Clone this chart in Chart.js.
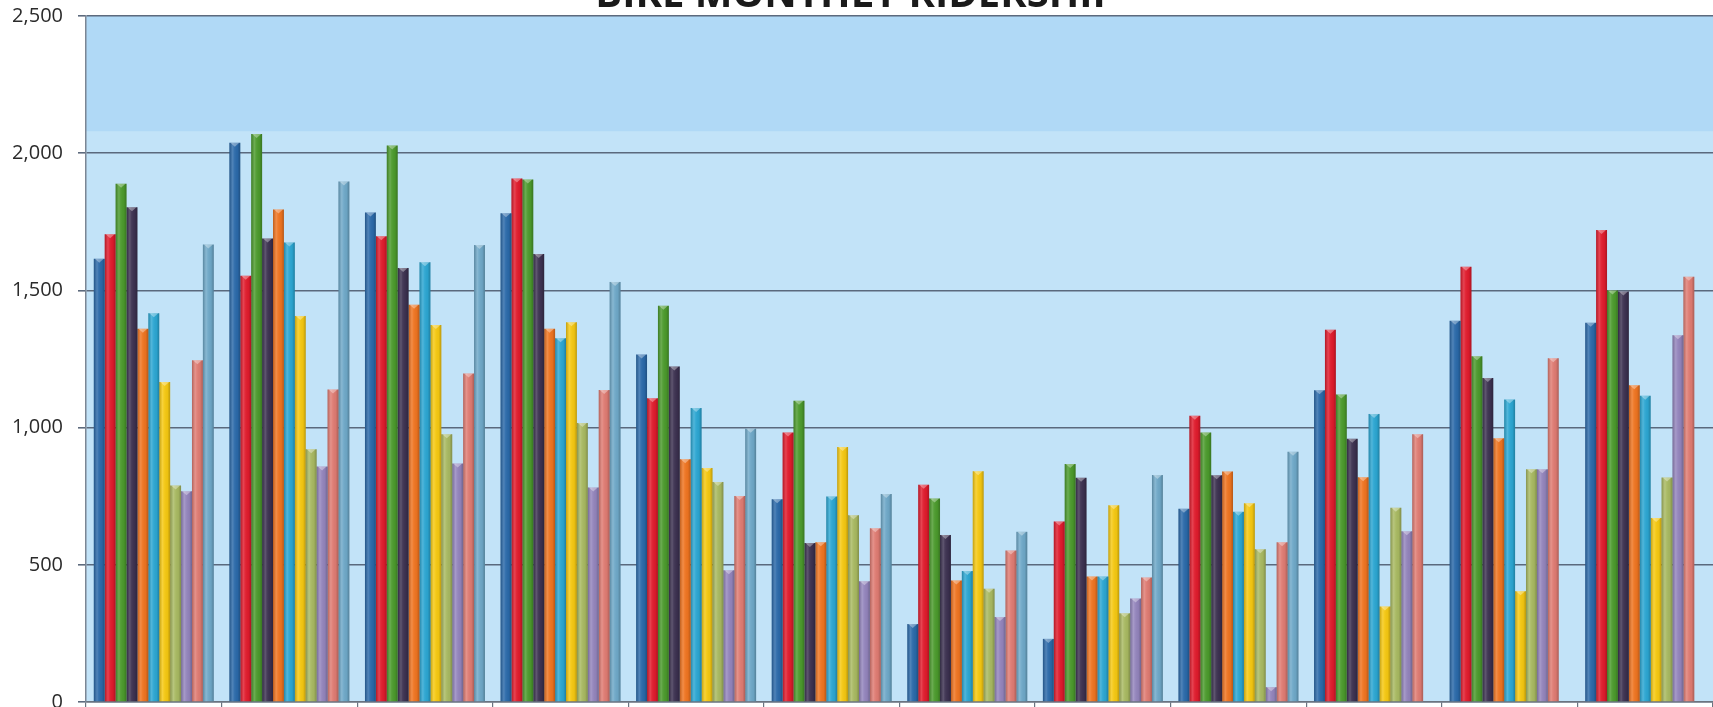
<!DOCTYPE html>
<html>
<head>
<meta charset="utf-8">
<title>Bike Monthly Ridership</title>
<script src="https://cdn.jsdelivr.net/npm/chart.js@4.4.1/dist/chart.umd.min.js"></script>
<style>
  html, body { margin: 0; padding: 0; background: #ffffff; overflow: hidden; }
  #wrap { position: absolute; left: 0; top: -41px; width: 1713px; height: 793px; }
</style>
</head>
<body>
<div id="wrap"><canvas id="chart" width="1713" height="793"></canvas></div>
<script>
// Months on the category axis
const months = ['Jan', 'Feb', 'Mar', 'Apr', 'May', 'Jun', 'Jul', 'Aug', 'Sep', 'Oct', 'Nov', 'Dec'];

// Value axis ticks
const yTicks = [0, 500, 1000, 1500, 2000, 2500];

// Monthly ridership, one array per year
const year1  = [1615, 2038, 1784, 1781, 1266, 739, 284, 230, 704, 1136, 1389, 1382];
const year2  = [1705, 1553, 1697, 1908, 1107, 982, 792, 658, 1043, 1357, 1586, 1720];
const year3  = [1889, 2070, 2028, 1904, 1444, 1098, 742, 867, 982, 1121, 1260, 1500];
const year4  = [1803, 1689, 1582, 1633, 1223, 579, 609, 817, 826, 959, 1181, 1496];
const year5  = [1360, 1795, 1448, 1360, 885, 582, 443, 457, 840, 819, 961, 1154];
const year6  = [1417, 1675, 1603, 1326, 1071, 749, 477, 457, 693, 1050, 1102, 1116];
const year7  = [1166, 1407, 1374, 1384, 853, 929, 841, 717, 724, 348, 404, 671];
const year8  = [789, 921, 976, 1017, 802, 681, 413, 323, 557, 708, 848, 818];
const year9  = [768, 858, 869, 782, 480, 440, 310, 377, 54, 622, 848, 1337];
const year10 = [1245, 1139, 1197, 1137, 751, 633, 552, 454, 582, 976, 1253, 1550];
const year11 = [1667, 1897, 1665, 1531, 996, 758, 620, 827, 912, null, null, null];

const seriesNames = ['2014', '2015', '2016', '2017', '2018', '2019', '2020', '2021', '2022', '2023', '2024'];
const seriesValues = [year1, year2, year3, year4, year5, year6, year7, year8, year9, year10, year11];
const seriesColors = ['#2a69a9', '#e01b2c', '#4b9a2c', '#3c3150', '#ef7420', '#2ba6d2',
                      '#f5c811', '#a8b961', '#9384bc', '#df7b72', '#6ea8c8'];

// Light blue plot background with a deeper band along the top
const plotBackground = {
  id: 'plotBackground',
  beforeDraw(chart) {
    const { ctx, chartArea: a, scales } = chart;
    const bandEdge = scales.y.getPixelForValue(2080);
    ctx.save();
    ctx.fillStyle = '#c2e3f8';
    ctx.fillRect(a.left, a.top, a.right - a.left, a.bottom - a.top);
    ctx.fillStyle = '#b0d9f6';
    ctx.fillRect(a.left, a.top, a.right - a.left, bandEdge - a.top);
    ctx.restore();
  }
};

// Rounded, tube-like shading over each bar
const tubeShading = {
  id: 'tubeShading',
  afterDatasetsDraw(chart) {
    const { ctx } = chart;
    ctx.save();
    chart.data.datasets.forEach((ds, i) => {
      const meta = chart.getDatasetMeta(i);
      meta.data.forEach((el, j) => {
        if (ds.data[j] == null) return;
        const { x, y, base, width } = el.getProps(['x', 'y', 'base', 'width'], true);
        const left = x - width / 2;
        const g = ctx.createLinearGradient(left, 0, left + width, 0);
        g.addColorStop(0, 'rgba(0,0,0,0.2)');
        g.addColorStop(0.3, 'rgba(255,255,255,0.18)');
        g.addColorStop(0.45, 'rgba(255,255,255,0.06)');
        g.addColorStop(0.75, 'rgba(0,0,0,0.03)');
        g.addColorStop(1, 'rgba(0,0,0,0.24)');
        ctx.fillStyle = g;
        ctx.fillRect(left, y, width, base - y);
        // small bright cap at the top of the tube
        ctx.fillStyle = 'rgba(255,255,255,0.35)';
        ctx.beginPath();
        ctx.moveTo(left + 1, y);
        ctx.lineTo(left + width - 1, y);
        ctx.lineTo(x, y + 4);
        ctx.closePath();
        ctx.fill();
      });
    });
    ctx.restore();
  }
};

new Chart(document.getElementById('chart'), {
  type: 'bar',
  data: {
    labels: months,
    datasets: seriesValues.map((vals, i) => ({
      label: seriesNames[i],
      data: vals,
      backgroundColor: seriesColors[i],
      borderWidth: 0,
      barPercentage: 1.0,
      categoryPercentage: 0.885
    }))
  },
  options: {
    responsive: false,
    animation: false,
    devicePixelRatio: 1,
    layout: { padding: 0 },
    plugins: {
      legend: { display: false },
      tooltip: { enabled: false },
      title: {
        display: true,
        text: 'BIKE MONTHLY RIDERSHIP',
        color: '#1a1a1a',
        font: { family: 'Open Sans', size: 40, weight: 'bold', lineHeight: 1 },
        padding: { top: 17, bottom: 0 }
      }
    },
    scales: {
      x: {
        offset: true,
        grid: {
          offset: true,
          drawOnChartArea: false,
          drawTicks: true,
          tickLength: 8,
          color: '#6b7480',
          lineWidth: 1.2
        },
        border: { display: true, color: '#6b7480', width: 1.5 },
        ticks: { color: '#333', font: { family: 'Open Sans', size: 18 } },
        afterFit(axis) { axis.height = 50; }
      },
      y: {
        min: 0,
        max: 2500,
        afterBuildTicks(axis) { axis.ticks = yTicks.map(v => ({ value: v })); },
        grid: {
          color: 'rgba(84,98,118,0.95)',
          lineWidth: 1.6,
          tickLength: 8,
          drawTicks: true
        },
        border: { display: true, color: '#7b8694', width: 1.5 },
        ticks: {
          color: '#2b2b2b',
          padding: 15,
          font: { family: 'Open Sans', size: 20 },
          callback: v => v.toLocaleString('en-US')
        },
        afterFit(axis) { axis.width = 86; }
      }
    }
  },
  plugins: [plotBackground, tubeShading]
});
</script>
</body>
</html>
